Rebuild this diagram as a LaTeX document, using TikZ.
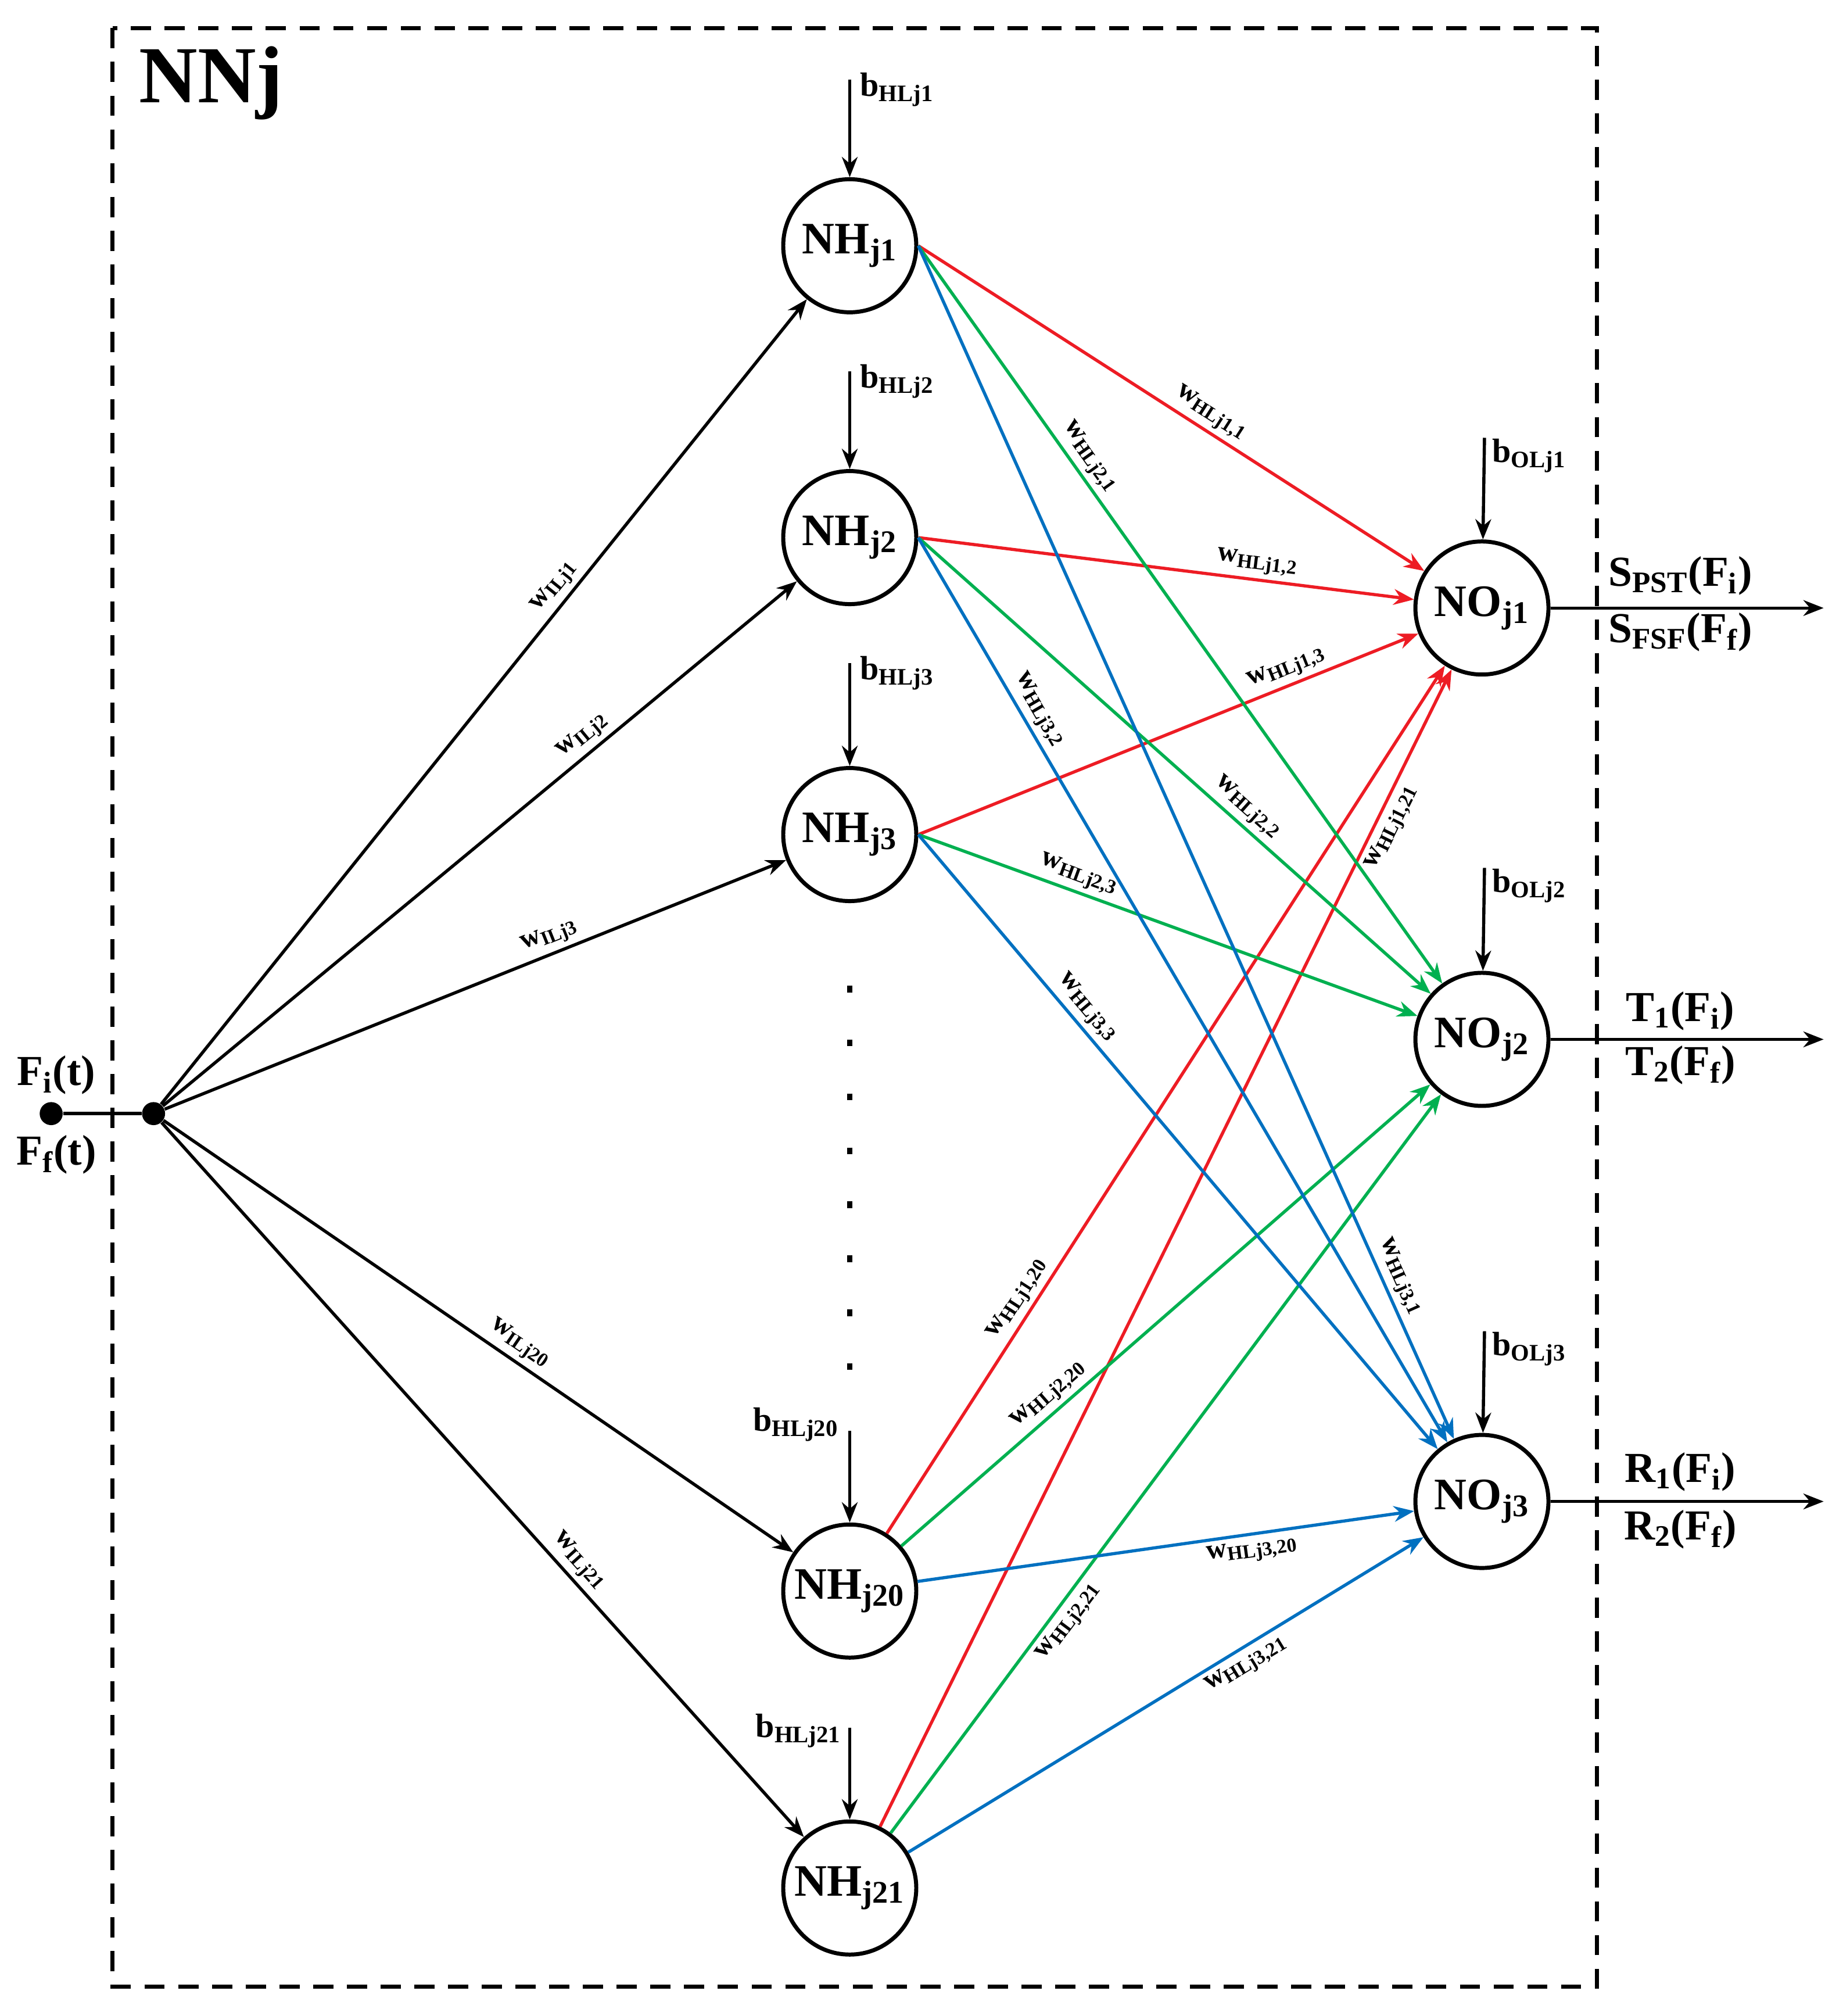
\documentclass[tikz,border=0pt]{standalone}
\usepackage{fontspec}
\setmainfont{Liberation Serif}
\usetikzlibrary{arrows.meta}
\begin{document}
\begin{tikzpicture}[x=0.02cm,y=-0.02cm,font=\bfseries,
  neu/.style={circle,draw,line width=1.8pt,minimum size=2.08cm,inner sep=0pt,font=\bfseries\fontsize{20}{22}\selectfont},
  ed/.style={line width=1.4pt,-{Stealth[length=9pt,width=7pt]}},
  wl/.style={sloped,font=\bfseries\fontsize{12.5}{13}\selectfont,inner sep=2pt},
  big/.style={font=\bfseries\fontsize{19}{22}\selectfont},
  bl/.style={font=\bfseries\fontsize{15}{17}\selectfont}]
\useasboundingbox (0,0) rectangle (1440,1575);
\draw[line width=1.8pt,dash pattern=on 9pt off 6pt] (88,22) rectangle (1248,1552);
\node[font=\bfseries\fontsize{36}{40}\selectfont] (title) at (165,65) {NNj};
% nodes
\node[neu] (h1) at (664,192) {NH\textsubscript{j1}};
\node[neu] (h2) at (664,420) {NH\textsubscript{j2}};
\node[neu] (h3) at (664,652) {NH\textsubscript{j3}};
\node[neu] (h20) at (664,1243) {NH\textsubscript{j20}};
\node[neu] (h21) at (664,1475) {NH\textsubscript{j21}};
\node[neu] (o1) at (1158,475) {NO\textsubscript{j1}};
\node[neu] (o2) at (1158,812) {NO\textsubscript{j2}};
\node[neu] (o3) at (1158,1173) {NO\textsubscript{j3}};
% input
\node[circle,fill,inner sep=0pt,minimum size=0.36cm] (in) at (120,870) {};
\node[circle,fill,inner sep=0pt,minimum size=0.36cm] (src) at (40,870) {};
\draw[line width=1.5pt] (src) -- (in);
\node[big] (fi) at (44,840) {F\textsubscript{i}(t)};
\node[big] (ff) at (44,902) {F\textsubscript{f}(t)};
\draw[ed] (in) -- node[wl,pos=0.63,above] {w\textsubscript{ILj1}} (h1);
\draw[ed] (in) -- node[wl,pos=0.68,above] {w\textsubscript{ILj2}} (h2);
\draw[ed] (in) -- node[wl,pos=0.63,above] {w\textsubscript{ILj3}} (h3);
\draw[ed] (in) -- node[wl,pos=0.55,above] {w\textsubscript{ILj20}} (h20);
\draw[ed] (in) -- node[wl,pos=0.63,above] {w\textsubscript{ILj21}} (h21);
% dots
\draw[line width=2.5pt,dash pattern=on 3pt off 21pt] (664,770) -- (664,1070);
% biases hidden
\foreach \n/\t/\y in {h1/1/62,h2/2/290,h3/3/518}{
  \coordinate (b\n) at (664,\y);
  \draw[ed] (b\n) -- (\n);
  \node[bl,anchor=west] (lb\n) at (666,\y+8) {b\textsubscript{HLj\t}};
}
\coordinate (bh20) at (664,1118);
\draw[ed] (bh20) -- (h20);
\node[bl] (lbh20) at (622,1113) {b\textsubscript{HLj20}};
\coordinate (bh21) at (664,1350);
\draw[ed] (bh21) -- (h21);
\node[bl] (lbh21) at (624,1352) {b\textsubscript{HLj21}};
% biases out
\foreach \n/\t/\y in {o1/1/342,o2/2/678,o3/3/1040}{
  \coordinate (b\n) at (1160,\y);
  \draw[ed] (b\n) -- (\n);
  \node[bl,anchor=west] (lb\n) at (1160,\y+14) {b\textsubscript{OLj\t}};
}
% outputs
\foreach \n/\y in {o1/475,o2/812,o3/1173}{
  \coordinate (e\n) at (1425,\y);
  \draw[ed] (\n) -- (e\n);
}
\node[big] (s1) at (1313,450) {S\textsubscript{PST}(F\textsubscript{i})};
\node[big] (s2) at (1313,494) {S\textsubscript{FSF}(F\textsubscript{f})};
\node[big] (t1) at (1313,790) {T\textsubscript{1}(F\textsubscript{i})};
\node[big] (t2) at (1313,832) {T\textsubscript{2}(F\textsubscript{f})};
\node[big] (r1) at (1313,1150) {R\textsubscript{1}(F\textsubscript{i})};
\node[big] (r2) at (1313,1195) {R\textsubscript{2}(F\textsubscript{f})};
% hidden -> output
\definecolor{cr}{RGB}{237,28,36}
\definecolor{cg}{RGB}{0,176,80}
\definecolor{cb}{RGB}{0,112,192}
\draw[ed,cr] (h1.east) -- node[wl,black,pos=0.56,above] {w\textsubscript{HLj1,1}} (o1);
\draw[ed,cr] (h2.east) -- node[wl,black,pos=0.68,above] {w\textsubscript{HLj1,2}} (o1);
\draw[ed,cr] (h3.east) -- node[wl,black,pos=0.75,above] {w\textsubscript{HLj1,3}} (o1);
\draw[ed,cr] (h20) -- node[wl,black,pos=0.26,above] {w\textsubscript{HLj1,20}} (o1);
\draw[ed,cr] (h21) -- node[wl,black,pos=0.87,below] {w\textsubscript{HLj1,21}} (o1);
\draw[ed,cg] (h1.east) -- node[wl,black,pos=0.3,above] {w\textsubscript{HLj2,1}} (o2);
\draw[ed,cg] (h2.east) -- node[wl,black,pos=0.62,above] {w\textsubscript{HLj2,2}} (o2);
\draw[ed,cg] (h3.east) -- node[wl,black,pos=0.31,above] {w\textsubscript{HLj2,3}} (o2);
\draw[ed,cg] (h20) -- node[wl,black,pos=0.3,above] {w\textsubscript{HLj2,20}} (o2);
\draw[ed,cg] (h21) -- node[wl,black,pos=0.3,below] {w\textsubscript{HLj2,21}} (o2);
\draw[ed,cb] (h1.east) -- node[wl,black,pos=0.87,above] {w\textsubscript{HLj3,1}} (o3);
\draw[ed,cb] (h2.east) -- node[wl,black,pos=0.2,above] {w\textsubscript{HLj3,2}} (o3);
\draw[ed,cb] (h3.east) -- node[wl,black,pos=0.3,above] {w\textsubscript{HLj3,3}} (o3);
\draw[ed,cb] (h20) -- node[wl,black,pos=0.67,below] {w\textsubscript{HLj3,20}} (o3);
\draw[ed,cb] (h21) -- node[wl,black,pos=0.64,below] {w\textsubscript{HLj3,21}} (o3);
\end{tikzpicture}
\end{document}
